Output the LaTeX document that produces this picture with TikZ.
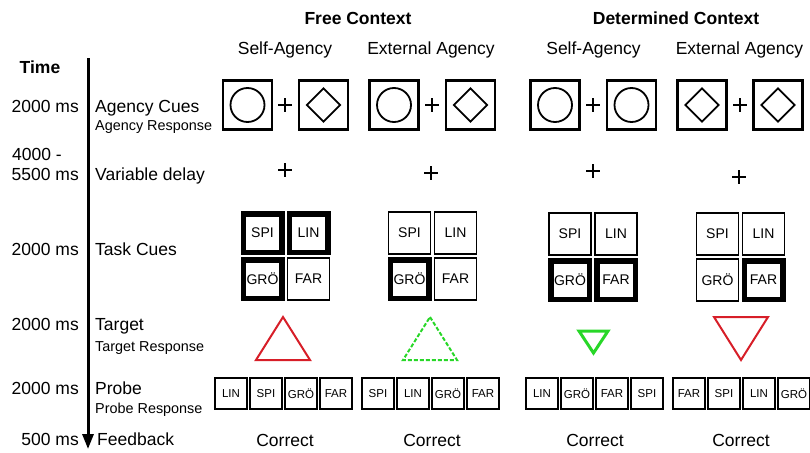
\documentclass[tikz,border=0pt]{standalone}
\usepackage{fontspec}
\setmainfont{Liberation Sans}
\usetikzlibrary{arrows.meta,shapes.geometric}
\definecolor{tred}{RGB}{215,30,40}
\definecolor{tgreen}{RGB}{40,215,40}
\tikzset{
  big/.style={font=\fontsize{17.5}{20}\selectfont, inner sep=0pt},
  bigb/.style={font=\fontsize{17.5}{20}\selectfont\bfseries, inner sep=0pt},
  small/.style={font=\fontsize{14.4}{17}\selectfont, inner sep=0pt},
  cuebox/.style={draw, line width=2.2pt, minimum size=49pt, inner sep=0pt},
  cuecirc/.style={draw, circle, line width=1.8pt, minimum size=34pt, inner sep=0pt},
  cuediam/.style={draw, diamond, line width=1.8pt, minimum width=34pt, minimum height=34pt, inner sep=0pt},
  plusline/.style={line width=1.4pt},
  thickcell/.style={draw, line width=5.5pt, minimum size=38.5pt, inner sep=0pt, font=\fontsize{14}{16}\selectfont},
  thincell/.style={draw, line width=1.8pt, minimum size=42pt, inner sep=0pt, font=\fontsize{14}{16}\selectfont},
  probebox/.style={draw, line width=2.4pt, minimum width=31.5pt, minimum height=30.5pt, inner sep=0pt, font=\fontsize{11.5}{13}\selectfont},
  targetline/.style={line width=2pt, line join=miter},
}
\begin{document}
\begin{tikzpicture}[x=1pt,y=-1pt]
\useasboundingbox (0,0) rectangle (810,452);

% headers
\node[bigb, anchor=base] (hfree) at (358,25) {Free Context};
\node[bigb, anchor=base] (hdet) at (676,25) {Determined Context};
\node[big, anchor=base] (h1) at (285,55) {Self-Agency};
\node[big, anchor=base] (h2) at (431,55) {External Agency};
\node[big, anchor=base] (h3) at (593.5,55) {Self-Agency};
\node[big, anchor=base] (h4) at (739.5,55) {External Agency};

% time axis
\node[bigb, anchor=base] (time) at (40,73) {Time};
\coordinate (ttop) at (88,58);
\coordinate (tbot) at (88,449);
\draw[line width=3pt, -{Triangle[length=15pt,width=11pt]}] (ttop) -- (tbot);

% left labels
\node[big, anchor=base east] (t1) at (79,112) {2000 ms};
\node[big, anchor=base west] (l1) at (95,112) {Agency Cues};
\node[small, anchor=base west] (l1b) at (95,130) {Agency Response};
\node[big, anchor=base west] (t2a) at (12,160) {4000 -};
\node[big, anchor=base east] (t2) at (79,180) {5500 ms};
\node[big, anchor=base west] (l2) at (95,180) {Variable delay};
\node[big, anchor=base east] (t3) at (79,255) {2000 ms};
\node[big, anchor=base west] (l3) at (95,255) {Task Cues};
\node[big, anchor=base east] (t4) at (79,330) {2000 ms};
\node[big, anchor=base west] (l4) at (95,330) {Target};
\node[small, anchor=base west] (l4b) at (95,351) {Target Response};
\node[big, anchor=base east] (t5) at (79,394) {2000 ms};
\node[big, anchor=base west] (l5) at (95,394) {Probe};
\node[small, anchor=base west] (l5b) at (95,413) {Probe Response};
\node[big, anchor=base east] (t6) at (79,445) {500 ms};
\node[big, anchor=base west] (l6) at (97,445) {Feedback};

% agency cues
\node[cuebox] (a1l) at (247.5,105) {};
\node[cuecirc] at (a1l) {};
\node[cuebox] (a1r) at (323.5,105) {};
\node[cuediam] at (a1r) {};
\node[cuebox] (a2l) at (394,105) {};
\node[cuecirc] at (a2l) {};
\node[cuebox] (a2r) at (470.5,105) {};
\node[cuediam] at (a2r) {};
\node[cuebox] (a3l) at (555,105) {};
\node[cuecirc] at (a3l) {};
\node[cuebox] (a3r) at (631.5,105) {};
\node[cuecirc] at (a3r) {};
\node[cuebox] (a4l) at (702,105) {};
\node[cuediam] at (a4l) {};
\node[cuebox] (a4r) at (778,105) {};
\node[cuediam] at (a4r) {};
\foreach \x in {285,432,593,740}{
  \draw[plusline] (\x-7,105) -- (\x+7,105) (\x,98) -- (\x,112);
}

% variable delay fixation crosses
\foreach \x/\y in {285/170,431/173,593/171,739/177}{
  \draw[plusline] (\x-7,\y) -- (\x+7,\y) (\x,\y-7) -- (\x,\y+7);
}

% task cues
\node[thickcell] (c1s) at (262.5,233) {SPI};
\node[thickcell] (c1l) at (308.5,233) {LIN};
\node[thickcell] (c1g) at (262.5,279) {GRÖ};
\node[thincell]  (c1f) at (308.5,279) {FAR};

\node[thincell]  (c2s) at (409.5,233) {SPI};
\node[thincell]  (c2l) at (455.5,233) {LIN};
\node[thickcell] (c2g) at (409.5,279) {GRÖ};
\node[thincell]  (c2f) at (455.5,279) {FAR};

\node[thincell]  (c3s) at (570,234) {SPI};
\node[thincell]  (c3l) at (616,234) {LIN};
\node[thickcell] (c3g) at (570,280) {GRÖ};
\node[thickcell] (c3f) at (616,280) {FAR};

\node[thincell]  (c4s) at (717.5,234) {SPI};
\node[thincell]  (c4l) at (763.5,234) {LIN};
\node[thincell]  (c4g) at (717.5,280) {GRÖ};
\node[thickcell] (c4f) at (763.5,280) {FAR};

% targets
\draw[targetline, tred] (283,317) -- (310,360) -- (256,360) -- cycle;
\draw[targetline, tgreen, dashed, dash pattern=on 4pt off 2pt] (430,317) -- (457,360) -- (403,360) -- cycle;
\draw[line width=3pt, tgreen, line join=miter] (579,331) -- (608,331) -- (593.5,353) -- cycle;
\draw[targetline, tred] (714,317) -- (768,317) -- (741,360) -- cycle;

% probes
\foreach \cx/\a/\b/\c/\d/\g in {231/LIN/SPI/GRÖ/FAR/1, 378/SPI/LIN/GRÖ/FAR/2, 542/LIN/GRÖ/FAR/SPI/3, 689/FAR/SPI/LIN/GRÖ/4}{
  \node[probebox] (p\g a) at (\cx,393.5) {\a};
  \node[probebox] (p\g b) at (\cx+35,393.5) {\b};
  \node[probebox] (p\g c) at (\cx+70,393.5) {\c};
  \node[probebox] (p\g d) at (\cx+105,393.5) {\d};
}

% feedback
\node[big, anchor=base] (f1) at (285,446) {Correct};
\node[big, anchor=base] (f2) at (432,446) {Correct};
\node[big, anchor=base] (f3) at (595,446) {Correct};
\node[big, anchor=base] (f4) at (741,446) {Correct};
\end{tikzpicture}
\end{document}
